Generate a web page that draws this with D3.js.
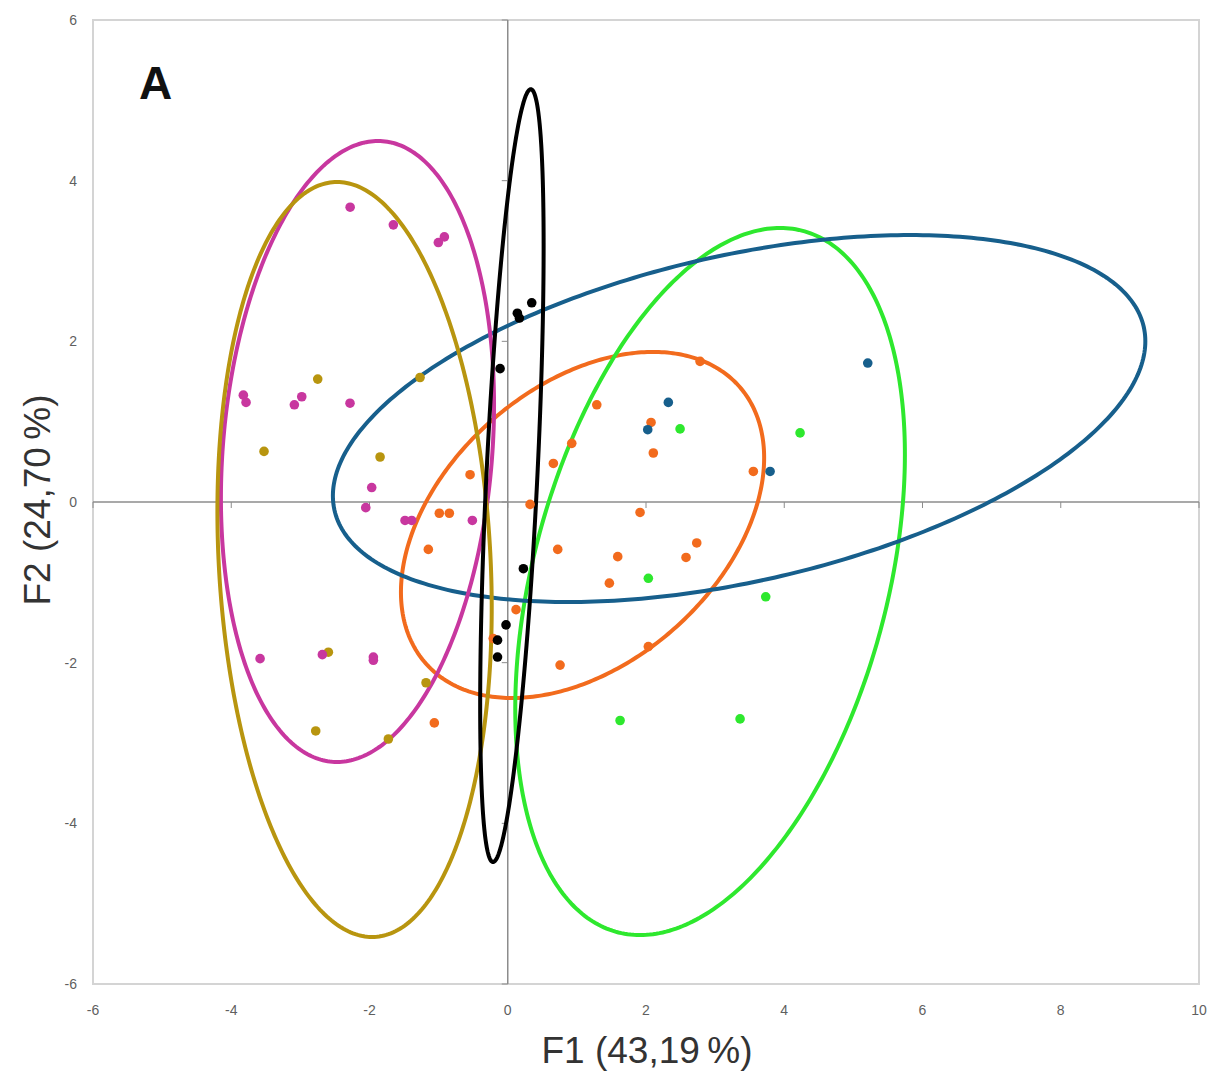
<!DOCTYPE html>
<html>
<head>
<meta charset="utf-8">
<script src="https://cdn.jsdelivr.net/npm/d3@7"></script>
<style>
  body { margin: 0; background: #fff; }
  text { font-family: "Liberation Sans", Arial, sans-serif; }
</style>
</head>
<body>
<div id="container"></div>
<script>
let w = 1214;
let h = 1074;

// DATA (F1, F2 scores per group)
let xTicks = [-6, -4, -2, 0, 2, 4, 6, 8, 10];
let yTicks = [-6, -4, -2, 0, 2, 4, 6];

let magentaPts = [
  [-2.28, 3.67], [-1.655, 3.45], [-1.004, 3.23], [-0.917, 3.30],
  [-3.825, 1.33], [-3.786, 1.24], [-3.087, 1.21], [-2.98, 1.31], [-2.282, 1.23],
  [-1.968, 0.18], [-2.054, -0.07], [-1.486, -0.23], [-1.389, -0.23], [-0.512, -0.23],
  [-3.583, -1.95], [-2.682, -1.90], [-1.944, -1.93], [-1.944, -1.97]
];
let goldPts = [
  [-2.749, 1.53], [-1.269, 1.55], [-3.526, 0.63], [-1.847, 0.56],
  [-2.595, -1.87], [-1.182, -2.25], [-2.778, -2.85], [-1.727, -2.95]
];
let blackPts = [
  [-0.111, 1.66], [0.139, 2.35], [0.168, 2.29], [0.347, 2.48],
  [0.226, -0.83], [-0.025, -1.53], [-0.148, -1.72], [-0.148, -1.93]
];
let orangePts = [
  [-0.545, 0.34], [-0.99, -0.14], [-0.845, -0.14], [-1.149, -0.59], [0.323, -0.03],
  [0.12, -1.34], [-1.062, -2.75], [1.288, 1.21], [0.926, 0.73], [0.66, 0.48],
  [2.782, 1.75], [2.073, 0.99], [2.106, 0.61], [3.553, 0.38], [1.914, -0.13],
  [0.723, -0.59], [1.591, -0.68], [2.734, -0.51], [2.579, -0.69], [1.47, -1.01],
  [0.757, -2.03], [2.034, -1.80], [-0.21, -1.70]
];
let bluePts = [
  [2.323, 1.24], [2.025, 0.90], [3.795, 0.38], [5.208, 1.73]
];
let greenPts = [
  [2.493, 0.91], [4.229, 0.86], [2.034, -0.95], [3.732, -1.18], [1.625, -2.72], [3.361, -2.70]
];

// confidence ellipses: centre + cos(t)*U + sin(t)*V (conjugate semi-axes, data units)
let ellipseNames   = ["orange", "green", "blue", "magenta", "gold", "black"];
let ellipseCenters = [[1.082, -0.286], [2.927, -0.99], [3.347, 1.039], [-2.174, 0.629], [-2.216, -0.716], [0.06, 0.328]];
let ellipseU       = [[1.02, 2.154], [1.013, 4.401], [2.475, 2.284], [0.297, 3.865], [-0.253, 4.699], [0.273, 4.81]];
let ellipseV       = [[2.421, 0], [2.63, 0], [5.33, 0], [1.953, 0], [1.968, 0], [0.369, 0]];

let colors = {
  magenta: "#c8379f",
  gold: "#b8950f",
  black: "#000000",
  orange: "#f26b1d",
  blue: "#175f8c",
  green: "#2ee82e"
};

// SVG
let viz = d3.select("#container").append("svg")
    .attr("width", w)
    .attr("height", h)
    .style("background-color", "white");

// SCALES
let xScale = d3.scaleLinear().domain([-6, 10]).range([93, 1199]);
let yScale = d3.scaleLinear().domain([-6, 6]).range([984, 20]);

// plot frame
viz.append("rect")
    .attr("x", xScale(-6))
    .attr("y", yScale(6))
    .attr("width", xScale(10) - xScale(-6))
    .attr("height", yScale(-6) - yScale(6))
    .attr("fill", "none")
    .attr("stroke", "#d4d4d4")
    .attr("stroke-width", 2);

// zero axes
viz.append("line")
    .attr("x1", xScale(-6)).attr("x2", xScale(10))
    .attr("y1", yScale(0)).attr("y2", yScale(0))
    .attr("stroke", "#8c8c8c").attr("stroke-width", 1.5);
viz.append("line")
    .attr("x1", xScale(0)).attr("x2", xScale(0))
    .attr("y1", yScale(6)).attr("y2", yScale(-6))
    .attr("stroke", "#8c8c8c").attr("stroke-width", 1.5);

// tick marks on the zero axes
viz.selectAll(".ytick").data(yTicks).enter()
  .append("line")
    .attr("class", "ytick")
    .attr("x1", xScale(0) - 6).attr("x2", xScale(0))
    .attr("y1", d => yScale(d)).attr("y2", d => yScale(d))
    .attr("stroke", "#8c8c8c").attr("stroke-width", 1);
viz.selectAll(".xtick").data(xTicks).enter()
  .append("line")
    .attr("class", "xtick")
    .attr("x1", d => xScale(d)).attr("x2", d => xScale(d))
    .attr("y1", yScale(0)).attr("y2", yScale(0) + 6)
    .attr("stroke", "#8c8c8c").attr("stroke-width", 1);

// tick labels
viz.selectAll(".ylab").data(yTicks).enter()
  .append("text")
    .attr("class", "ylab")
    .attr("x", 77)
    .attr("y", d => yScale(d) + 5)
    .attr("text-anchor", "end")
    .attr("font-size", 14)
    .attr("fill", "#5f5f5f")
    .text(d => d);
viz.selectAll(".xlab").data(xTicks).enter()
  .append("text")
    .attr("class", "xlab")
    .attr("x", d => xScale(d))
    .attr("y", 1015)
    .attr("text-anchor", "middle")
    .attr("font-size", 14)
    .attr("fill", "#5f5f5f")
    .text(d => d);

// axis titles
viz.append("text")
    .attr("x", 647)
    .attr("y", 1063)
    .attr("text-anchor", "middle")
    .attr("font-size", 37)
    .attr("fill", "#333")
    .text("F1 (43,19\u2009%)");
viz.append("text")
    .attr("transform", "translate(50,500) rotate(-90)")
    .attr("text-anchor", "middle")
    .attr("font-size", 37)
    .attr("fill", "#333")
    .text("F2 (24,70\u2009%)");

// panel letter
viz.append("text")
    .attr("x", 139)
    .attr("y", 99)
    .attr("font-size", 46)
    .attr("font-weight", "bold")
    .attr("fill", "#111")
    .text("A");

// ELLIPSES
let ts = d3.range(0, 2 * Math.PI, Math.PI / 180);
let lineMaker = d3.line()
    .x(d => xScale(d[0]))
    .y(d => yScale(d[1]))
    .curve(d3.curveLinearClosed);

let ellipseData = ellipseNames.map(function(name, i){
  let c = ellipseCenters[i], u = ellipseU[i], v = ellipseV[i];
  let pts = ts.map(function(t){
    return [c[0] + Math.cos(t) * u[0] + Math.sin(t) * v[0],
            c[1] + Math.cos(t) * u[1] + Math.sin(t) * v[1]];
  });
  return {name: name, pts: pts};
});

viz.selectAll(".ellipse").data(ellipseData).enter()
  .append("path")
    .attr("class", "ellipse")
    .attr("d", d => lineMaker(d.pts))
    .attr("fill", "none")
    .attr("stroke", d => colors[d.name])
    .attr("stroke-width", 4);

// POINTS
let pointGroups = [
  {name: "orange", pts: orangePts},
  {name: "green", pts: greenPts},
  {name: "blue", pts: bluePts},
  {name: "gold", pts: goldPts},
  {name: "magenta", pts: magentaPts},
  {name: "black", pts: blackPts}
];

pointGroups.forEach(function(g){
  viz.selectAll(".pt-" + g.name).data(g.pts).enter()
    .append("circle")
      .attr("class", "pt-" + g.name)
      .attr("cx", d => xScale(d[0]))
      .attr("cy", d => yScale(d[1]))
      .attr("r", 4.8)
      .attr("fill", colors[g.name]);
});
</script>
</body>
</html>
